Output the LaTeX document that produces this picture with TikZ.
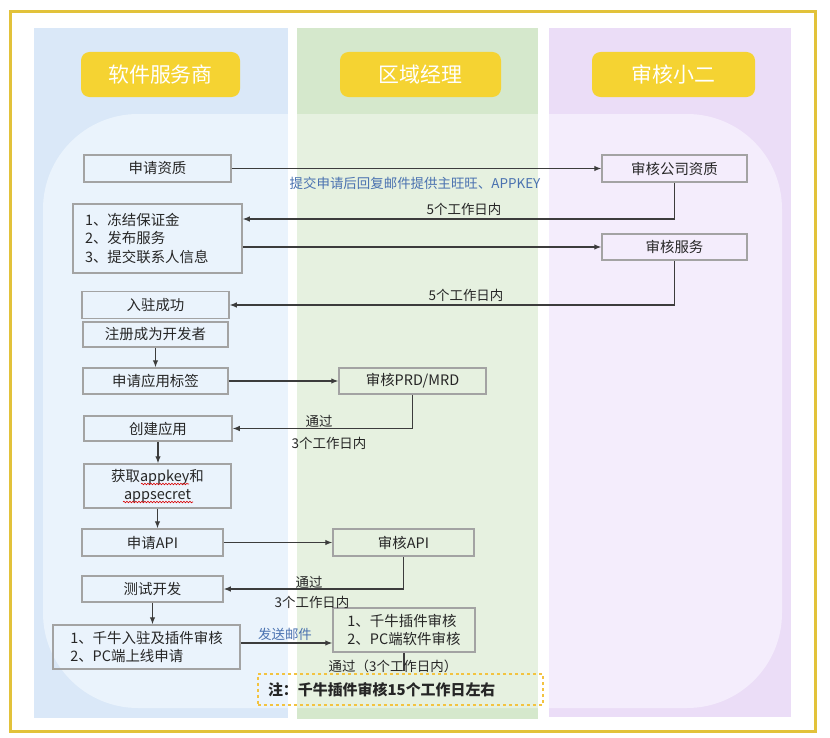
\documentclass[tikz,border=0pt]{standalone}
\usepackage{fontspec}
\setmainfont{Noto Sans CJK SC}
\usetikzlibrary{arrows.meta,decorations.pathmorphing}
\definecolor{framec}{HTML}{E2C23A}
\definecolor{pillc}{HTML}{F5D332}
\definecolor{bluebg}{HTML}{DAE8F8}
\definecolor{bluein}{HTML}{EAF3FC}
\definecolor{greenbg}{HTML}{D5E8CC}
\definecolor{greenin}{HTML}{E6F1E0}
\definecolor{purplebg}{HTML}{EBDDF7}
\definecolor{purplein}{HTML}{F4EDFC}
\definecolor{boxgray}{HTML}{A3A3A3}
\definecolor{linec}{HTML}{3C3C3C}
\definecolor{txt}{HTML}{262626}
\definecolor{bluec}{HTML}{4A72B0}
\definecolor{notec}{HTML}{F3C340}
\begin{document}
\begin{tikzpicture}[x=1bp,y=-1bp,
  box/.style={draw=boxgray, line width=1.5bp, minimum height=27bp, inner sep=0pt, text=txt, font=\fontsize{14.5}{18.5}\selectfont},
  arr/.style={draw=linec, line width=1.1bp, -{Latex[length=7bp,width=5.5bp]}},
  ln/.style={draw=linec, line width=1.1bp},
  squig/.style={draw=red!85!black, line width=0.6bp, decorate, decoration={snake, amplitude=0.8bp, segment length=3bp}},
  lbl/.style={text=txt, font=\fontsize{13.5}{16}\selectfont, inner sep=1bp},
  blbl/.style={lbl, text=bluec},
  pill/.style={fill=pillc, rounded corners=8.5bp, text=white, font=\fontsize{21}{24}\selectfont, minimum height=45bp, inner sep=0pt}]
\useasboundingbox (0,0) rectangle (830,738);
\fill[white] (0,0) rectangle (830,738);
% columns
\fill[bluebg] (34,28) rectangle (288,718);
\fill[greenbg] (297,28) rectangle (538,719);
\fill[purplebg] (549,28) rectangle (791,717);
\begin{scope}
  \clip[rounded corners=95bp] (43,114) rectangle (782,708);
  \fill[bluein] (34,28) rectangle (288,718);
  \fill[greenin] (297,28) rectangle (538,719);
  \fill[purplein] (549,28) rectangle (791,717);
\end{scope}
% frame
\draw[framec, line width=3bp] (10,12) rectangle (815,731);
% headers
\node[pill, minimum width=159bp] (h1) at (160.5,74.5) {软件服务商};
\node[pill, minimum width=161bp] (h2) at (420.5,74.5) {区域经理};
\node[pill, minimum width=163bp] (h3) at (673.5,74.5) {审核小二};
% boxes
\node[box, minimum width=147bp] (n1) at (157.5,168.5) {申请资质};
\node[box, minimum width=145bp] (n2) at (674.5,168.5) {审核公司资质};
\node[box, minimum width=169bp, minimum height=69bp, align=left, text width=145bp, inner xsep=12bp] (n3) at (157.5,238.5) {1、冻结保证金\\2、发布服务\\3、提交联系人信息};
\node[box, minimum width=145bp, minimum height=26bp] (n4) at (674.5,247) {审核服务};
\node[box, minimum width=147bp] (n5) at (155.5,305) {入驻成功};
\node[box, minimum width=145bp, minimum height=25bp] (n6) at (155.5,334.5) {注册成为开发者};
\node[box, minimum width=145bp, minimum height=26bp] (n7) at (155.5,381) {申请应用标签};
\node[box, minimum width=147bp, minimum height=26bp] (n8) at (412.5,381) {审核PRD/MRD};
\node[box, minimum width=148bp, minimum height=25bp] (n9) at (158,428.5) {创建应用};
\node[box, minimum width=147bp, minimum height=44bp, align=center] (n10) at (157.5,486) {获取appkey和\\appsecret};
\node[box, minimum width=141bp] (n11) at (152.5,542.5) {申请API};
\node[box, minimum width=141bp] (n12) at (403.5,542.5) {审核API};
\node[box, minimum width=141bp, minimum height=26bp] (n13) at (152.5,589) {测试开发};
\node[box, minimum width=187bp, minimum height=44bp, align=left] (n14) at (146.5,647) {1、千牛入驻及插件审核\\2、PC端上线申请};
\node[box, minimum width=142bp, minimum height=44bp, align=left] (n15) at (404,630) {1、千牛插件审核\\2、PC端软件审核};
\node[draw=notec, dashed, line width=1.2bp, minimum width=285bp, minimum height=31bp, inner xsep=10bp, text width=265bp, align=left, text=txt, font=\fontsize{15}{18}\selectfont\bfseries] (note) at (400.5,689.5) {注：千牛插件审核15个工作日左右};
\coordinate (c15) at (404,671);
\coordinate (sq1a) at (141,484); \coordinate (sq1b) at (189,484);
\coordinate (sq2a) at (123,502); \coordinate (sq2b) at (193,502);
% spell-check squiggles
\draw[squig] (sq1a) -- (sq1b);
\draw[squig] (sq2a) -- (sq2b);
% connectors
\draw[arr] (n1.east) -- (n2.west);
\draw[arr] (n2.south) |- (n3.east |- 0,219);
\draw[arr] (n3.east |- n4.west) -- (n4.west);
\draw[arr] (n4.south) |- (n5.east);
\draw[arr] (n6.south) -- (n7.north);
\draw[arr] (n7.east) -- (n8.west);
\draw[arr] (n8.south) |- (n9.east);
\draw[arr] (n9.south) -- (n9.south |- n10.north);
\draw[arr] (n10.south) -- (n10.south |- n11.north);
\draw[arr] (n11.east) -- (n12.west);
\draw[arr] (n12.south) |- (n13.east);
\draw[arr] (n13.south) -- (n13.south |- n14.north);
\draw[arr] (n14.east |- 0,643) -- (n15.west |- 0,643);
\draw[ln] (n15.south) -- (c15);
% labels
\node[blbl] (l1) at (415,183) {提交申请后回复邮件提供主旺旺、APPKEY};
\node[lbl] (l2) at (464,209) {5个工作日内};
\node[lbl] (l3) at (466,295) {5个工作日内};
\node[lbl] (l4) at (319,421) {通过};
\node[lbl] (l5) at (329,443) {3个工作日内};
\node[lbl] (l6) at (309,582) {通过};
\node[lbl] (l7) at (312,602) {3个工作日内};
\node[blbl] (l8) at (285,634) {发送邮件};
\node[lbl] (l9) at (393,666) {通过（3个工作日内）};
\end{tikzpicture}
\end{document}
